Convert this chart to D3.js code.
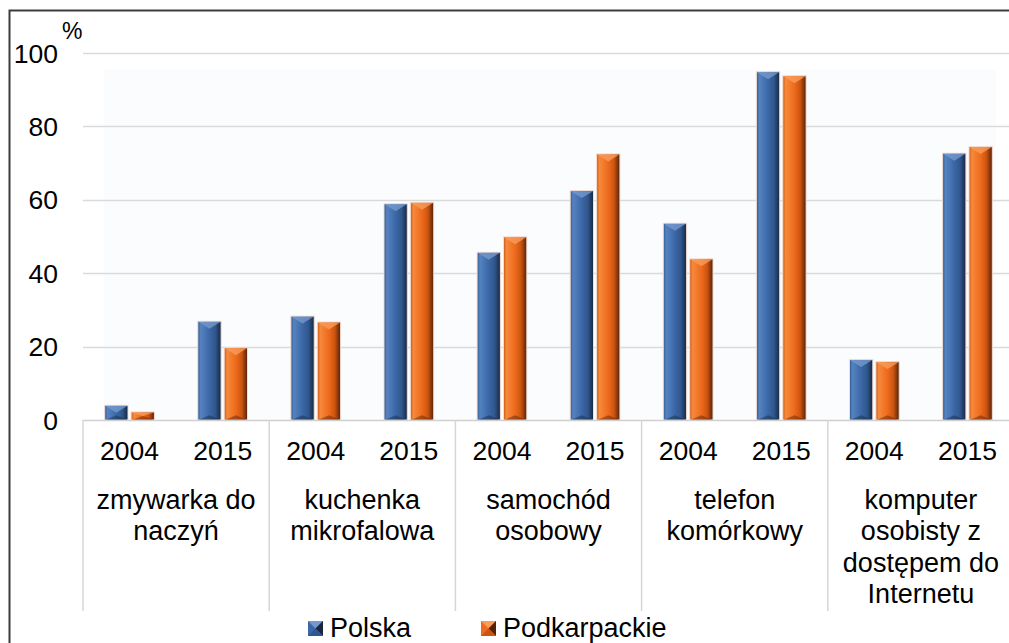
<!DOCTYPE html>
<html>
<head>
<meta charset="utf-8">
<script src="https://cdn.jsdelivr.net/npm/d3@7"></script>
<style>
  html, body { margin: 0; padding: 0; background: #fff; }
  svg { display: block; font-family: "Liberation Sans", Arial, sans-serif; }
</style>
</head>
<body>
<svg id="chart" width="1009" height="643"></svg>
<script>
// Household equipment, share of households (%), Polska vs Podkarpackie
const categories = [
  ["zmywarka do", "naczyń"],
  ["kuchenka", "mikrofalowa"],
  ["samochód", "osobowy"],
  ["telefon", "komórkowy"],
  ["komputer", "osobisty z", "dostępem do", "Internetu"]
];
const years = ["2004", "2015"];
const seriesNames = ["Polska", "Podkarpackie"];
// values per category × year, in order: cat0-2004, cat0-2015, cat1-2004, ...
const polska       = [4.0, 26.9, 28.3, 58.9, 45.7, 62.5, 53.6, 94.9, 16.5, 72.7];
const podkarpackie = [2.2, 19.7, 26.7, 59.3, 49.9, 72.5, 43.9, 93.8, 15.9, 74.5];
const yTicks = [0, 20, 40, 60, 80, 100];

const svg = d3.select("#chart");
const W = 1009, H = 643;

const plot = { left: 83, right: 1014, top: 53, bottom: 420 };

// outer frame (continues past the right and bottom edges)
svg.append("rect")
  .attr("x", 9.5).attr("y", 10.5)
  .attr("width", W + 20).attr("height", H + 20)
  .attr("fill", "#fff").attr("stroke", "#3c3c3c").attr("stroke-width", 2);

const x0 = d3.scaleBand()
  .domain(d3.range(categories.length))
  .range([plot.left, plot.right])
  .padding(0);
const x1 = d3.scaleBand()
  .domain(years)
  .range([0, x0.bandwidth()])
  .padding(0);
const x2 = d3.scaleBand()
  .domain(seriesNames)
  .range([0, x1.bandwidth()])
  .paddingInner(0.117)
  .paddingOuter(0.822);
const y = d3.scaleLinear().domain([0, 100]).range([plot.bottom, plot.top]);

// gradients for bevelled bars
const defs = svg.append("defs");
const palettes = {
  Polska: { light: "#5583c0", base: "#3b67a6", mid: "#30578e", dark: "#172740", top: "#7699cc" },
  Podkarpackie: { light: "#f68a3c", base: "#ee6a1c", mid: "#cc5410", dark: "#52220a", top: "#f89c5a" }
};
seriesNames.forEach((s, i) => {
  const p = palettes[s];
  const g = defs.append("linearGradient").attr("id", "g" + i)
    .attr("x1", "0").attr("x2", "1").attr("y1", "0").attr("y2", "0");
  g.append("stop").attr("offset", "0").attr("stop-color", p.mid);
  g.append("stop").attr("offset", "0.12").attr("stop-color", p.light);
  g.append("stop").attr("offset", "0.5").attr("stop-color", p.base);
  g.append("stop").attr("offset", "0.75").attr("stop-color", p.mid);
  g.append("stop").attr("offset", "1").attr("stop-color", p.dark);
});

// faint plot backdrop
svg.append("rect")
  .attr("x", 104).attr("y", 70)
  .attr("width", 892).attr("height", plot.bottom - 70)
  .attr("fill", "#fbfcfe");

// gridlines
svg.append("g").selectAll("line")
  .data(yTicks.filter(d => d > 0))
  .join("line")
  .attr("x1", plot.left).attr("x2", W)
  .attr("y1", d => Math.round(y(d)) + 0.5).attr("y2", d => Math.round(y(d)) + 0.5)
  .attr("stroke", "#dadada").attr("stroke-width", 1.5);

// y tick labels
svg.append("g").selectAll("text")
  .data(yTicks)
  .join("text")
  .attr("x", 58).attr("y", d => y(d))
  .attr("dy", "0.36em")
  .attr("text-anchor", "end")
  .attr("font-size", 26.5)
  .attr("fill", "#000")
  .text(d => d);

svg.append("text")
  .attr("x", 62).attr("y", 39)
  .attr("font-size", 23)
  .attr("fill", "#000")
  .text("%");

// bars
const rows = [];
categories.forEach((c, ci) => {
  years.forEach((yr, yi) => {
    const k = ci * years.length + yi;
    rows.push({ ci, yr, s: "Polska", si: 0, v: polska[k] });
    rows.push({ ci, yr, s: "Podkarpackie", si: 1, v: podkarpackie[k] });
  });
});

const bars = svg.append("g").selectAll("g")
  .data(rows)
  .join("g")
  .attr("transform", d => `translate(${x0(d.ci) + x1(d.yr) + x2(d.s)},0)`);

const bw = x2.bandwidth();
bars.append("rect")
  .attr("x", 0).attr("y", d => y(d.v))
  .attr("width", bw).attr("height", d => plot.bottom - y(d.v))
  .attr("fill", d => `url(#g${d.si})`)
  .attr("stroke", "#f2ddd4").attr("stroke-width", 1);

// bevel: light top facet
bars.append("path")
  .attr("d", d => {
    const t = y(d.v), h = Math.min(bw * 0.32, (plot.bottom - t) / 2);
    return `M0.5,${t + 0.5} L${bw - 0.5},${t + 0.5} L${bw / 2},${t + h} Z`;
  })
  .attr("fill", d => palettes[d.s].top)
  .attr("opacity", 0.8);

// bevel: dark bottom facet
bars.append("path")
  .attr("d", d => {
    const b = plot.bottom, h = Math.min(bw * 0.2, (plot.bottom - y(d.v)) / 2);
    return `M0.5,${b} L${bw - 0.5},${b} L${bw / 2},${b - h} Z`;
  })
  .attr("fill", d => palettes[d.s].dark)
  .attr("opacity", 0.45);

// category axis with bracket dividers
svg.append("line")
  .attr("x1", plot.left).attr("x2", W)
  .attr("y1", plot.bottom + 0.5).attr("y2", plot.bottom + 0.5)
  .attr("stroke", "#d0d0d0").attr("stroke-width", 1.5);

svg.append("g").selectAll("line")
  .data(d3.range(categories.length + 1))
  .join("line")
  .attr("x1", i => i < categories.length ? x0(i) : plot.right)
  .attr("x2", i => i < categories.length ? x0(i) : plot.right)
  .attr("y1", plot.bottom).attr("y2", 611)
  .attr("stroke", "#d6d6d6").attr("stroke-width", 1.5);

// year labels
const yearLabels = [];
categories.forEach((c, ci) => years.forEach(yr => yearLabels.push({ ci, yr })));
svg.append("g").selectAll("text")
  .data(yearLabels)
  .join("text")
  .attr("x", d => x0(d.ci) + x1(d.yr) + x1.bandwidth() / 2)
  .attr("y", 460)
  .attr("text-anchor", "middle")
  .attr("font-size", 26.5)
  .attr("fill", "#000")
  .text(d => d.yr);

// category labels
svg.append("g").selectAll("text")
  .data(categories)
  .join("text")
  .attr("text-anchor", "middle")
  .attr("font-size", 27)
  .attr("fill", "#000")
  .each(function (lines, ci) {
    d3.select(this).selectAll("tspan")
      .data(lines)
      .join("tspan")
      .attr("x", x0(ci) + x0.bandwidth() / 2)
      .attr("y", (d, li) => 509 + li * 31.3)
      .text(d => d);
  });

// legend
const legendItems = [
  { s: "Polska", si: 0, x: 308 },
  { s: "Podkarpackie", si: 1, x: 481 }
];
const lg = svg.append("g").selectAll("g")
  .data(legendItems)
  .join("g")
  .attr("transform", d => `translate(${d.x},621)`);
const m = 15;
lg.append("rect").attr("width", m).attr("height", m).attr("fill", d => palettes[d.s].base);
lg.append("path").attr("d", `M0,0 L${m},0 L${m / 2},${m / 2} Z`).attr("fill", d => palettes[d.s].top);
lg.append("path").attr("d", `M${m},0 L${m},${m} L${m / 2},${m / 2} Z`).attr("fill", d => palettes[d.s].dark);
lg.append("path").attr("d", `M0,${m} L${m},${m} L${m / 2},${m / 2} Z`).attr("fill", d => palettes[d.s].mid);
lg.append("text")
  .attr("x", m + 7).attr("y", 15.5)
  .attr("font-size", 27)
  .attr("fill", "#000")
  .text(d => d.s);
</script>
</body>
</html>
